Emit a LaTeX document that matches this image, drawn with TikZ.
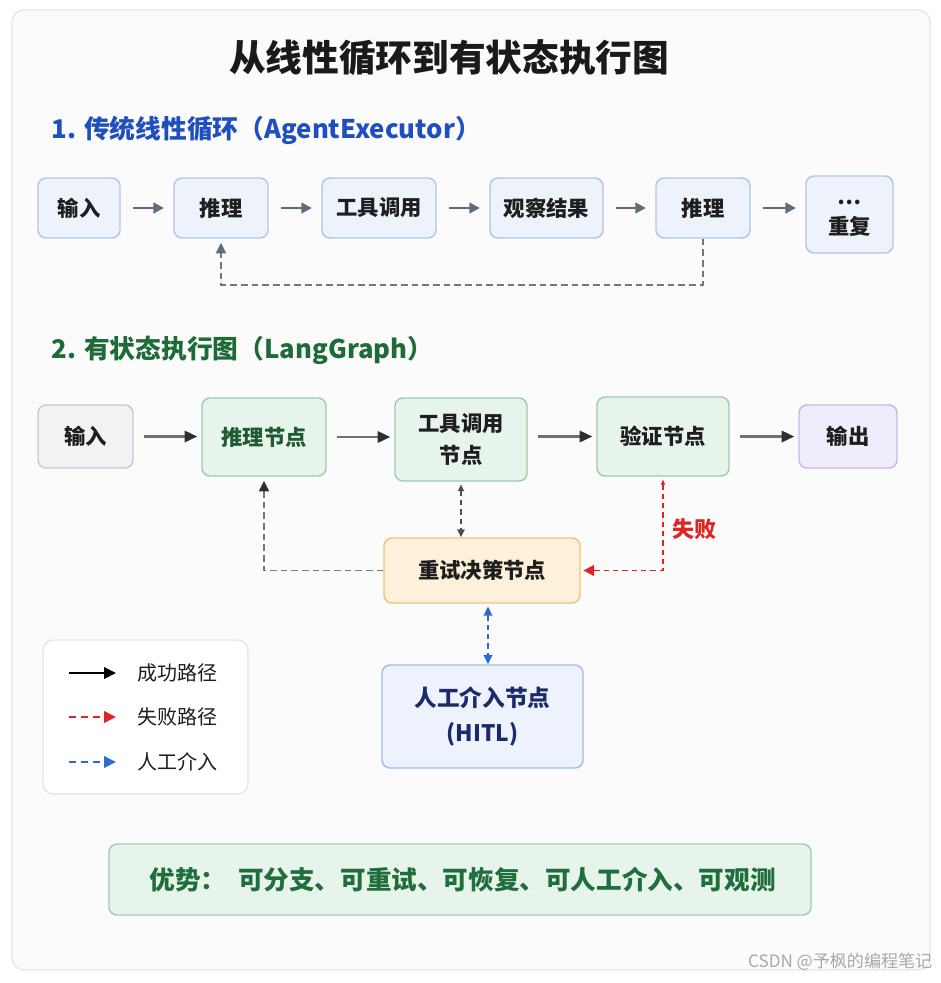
\documentclass[tikz,border=0pt]{standalone}
\usepackage{fontspec}
\setmainfont{Noto Sans CJK SC}
\usetikzlibrary{arrows.meta}
\definecolor{panelfill}{HTML}{FBFBFC}
\definecolor{panelline}{HTML}{E3E6EA}
\definecolor{titlec}{HTML}{1A1A1A}
\definecolor{hone}{HTML}{1F4FBF}
\definecolor{htwo}{HTML}{1F6B38}
\definecolor{txt}{HTML}{1E1E1E}
\definecolor{bluefill}{HTML}{EEF2FB}
\definecolor{blueline}{HTML}{B3C5E8}
\definecolor{grayfill}{HTML}{F1F2F4}
\definecolor{grayline}{HTML}{C6CAD1}
\definecolor{greenfill}{HTML}{E7F4EB}
\definecolor{greenline}{HTML}{9CCEAC}
\definecolor{purpfill}{HTML}{F1ECFB}
\definecolor{purpline}{HTML}{C8B8EC}
\definecolor{orfill}{HTML}{FDF1DC}
\definecolor{orline}{HTML}{F2C17A}
\definecolor{hitlfill}{HTML}{EDF2FC}
\definecolor{hitlline}{HTML}{A3BCEA}
\definecolor{navy}{HTML}{1B2A6B}
\definecolor{advtext}{HTML}{1F6E3B}
\definecolor{legline}{HTML}{E1E4EA}
\definecolor{aonec}{HTML}{5D6D7C}
\definecolor{atwoc}{HTML}{6A737C}
\definecolor{headc}{HTML}{2A2F33}
\definecolor{dashg}{HTML}{6F7780}
\definecolor{redc}{HTML}{E02424}
\definecolor{bluec}{HTML}{2B6BD3}
\definecolor{wmark}{HTML}{A6A8AB}
\definecolor{greentxt}{HTML}{1F5A31}
\begin{document}
\begin{tikzpicture}[x=0.75pt,y=-0.75pt,
  sz/.style 2 args={minimum width=#1*0.75pt, minimum height=#2*0.75pt},
  box/.style={rounded corners=6pt, line width=1.1pt, inner sep=0pt, align=center,
    font=\bfseries\fontsize{16}{24}\selectfont, text=txt},
  bbox/.style={box, fill=bluefill, draw=blueline},
  gbox/.style={box, fill=greenfill, draw=greenline},
  arrone/.style={draw=aonec, line width=2pt, -{Triangle[length=8pt,width=8pt]},
    shorten <=9pt, shorten >=7pt},
  arrtwo/.style={draw=atwoc, line width=1.8pt, -{Triangle[length=9.5pt,width=8.5pt,color=headc]},
    shorten <=7.5pt, shorten >=3pt},
  fbdash/.style={draw=dashg, line width=1.4pt, dash pattern=on 5pt off 3pt},
  legtext/.style={anchor=west, font=\fontsize{15}{18}\selectfont, text=txt}
]
\fill[white] (0,0) rectangle (941,983);
\draw[rounded corners=9pt, fill=panelfill, draw=panelline, line width=1pt] (12,10) rectangle (930,970);

% titles
\node[font=\bfseries\fontsize{27.5}{32}\selectfont, text=titlec] (title) at (449,58) {从线性循环到有状态执行图};
\node[anchor=west, font=\bfseries\fontsize{19.3}{23}\selectfont, text=hone] (hone) at (47,130) {1. 传统线性循环（AgentExecutor）};
\node[anchor=west, font=\bfseries\fontsize{19.3}{23}\selectfont, text=htwo] (htwo) at (47,350) {2. 有状态执行图（LangGraph）};

% row 1
\node[bbox, sz={82}{60}] (ina) at (79,208) {输入};
\node[bbox, sz={94}{60}] (rea) at (221,208) {推理};
\node[bbox, sz={114}{60}] (toa) at (379,208) {工具调用};
\node[bbox, sz={113}{60}] (oba) at (546.5,208) {观察结果};
\node[bbox, sz={94}{60}] (reb) at (703,208) {推理};
\node[bbox, sz={87}{77}, font=\bfseries\fontsize{16}{19}\selectfont] (rep) at (849.5,214.5)
  {\raisebox{-4.5pt}{\begin{tabular}{@{}c@{}}…\\[3pt]重复\end{tabular}}};

\draw[arrone] (ina.east) -- (rea.west);
\draw[arrone] (rea.east) -- (toa.west);
\draw[arrone] (toa.east) -- (oba.west);
\draw[arrone] (oba.east) -- (reb.west);
\draw[arrone] (reb.east) -- (reb.east -| rep.west);
\draw[fbdash, -{Triangle[length=8pt,width=7.5pt,color=aonec]}, shorten >=3pt]
  (reb.south) -- ++(0,46) -| (rea.south);

% row 2
\node[box, fill=grayfill, draw=grayline, sz={95}{63}] (inb) at (85.5,436.5) {输入};
\node[gbox, sz={124}{78}, text=greentxt] (ren) at (264,437) {推理节点};
\node[gbox, sz={132}{83}] (ton) at (461,439.5) {工具调用\\节点};
\node[gbox, sz={132}{79}] (ven) at (663,436.5) {验证节点};
\node[box, fill=purpfill, draw=purpline, sz={98}{63}] (outn) at (848,436.5) {输出};

\draw[arrtwo] (inb.east) -- (inb.east -| ren.west);
\draw[arrtwo] (ren.east) -- (ren.east -| ton.west);
\draw[arrtwo] (ven.west -| ton.east) -- (ven.west);
\draw[arrtwo] (ven.east) -- (ven.east -| outn.west);

\node[box, fill=orfill, draw=orline, sz={196}{65}] (retry) at (482,570.5) {重试决策节点};
\node[box, fill=hitlfill, draw=hitlline, sz={201}{103}, text=navy,
  font=\bfseries\fontsize{17}{26}\selectfont] (hitl) at (482.5,716.5) {人工介入节点\\(HITL)};

% dashed connectors row 2
\draw[draw=headc!85, line width=1.3pt, dash pattern=on 4pt off 3pt,
  {Triangle[length=5pt,width=4.5pt]}-{Triangle[length=6pt,width=5.5pt]}, shorten <=2pt]
  (ton.south) -- (ton.south |- retry.north);
\draw[fbdash, -{Triangle[length=8pt,width=7.5pt,color=headc]}, shorten >=3pt]
  (retry.west) -| (ren.south);
\draw[draw=redc, line width=1.4pt, dash pattern=on 4pt off 3pt,
  {Triangle[length=4pt,width=3pt]}-{Triangle[length=8pt,width=8pt]}, shorten >=2pt, shorten <=2pt]
  (ven.south) |- (retry.east);
\node[text=redc, font=\bfseries\fontsize{16.5}{20}\selectfont] (fail) at (694,529) {失败};
\draw[draw=bluec, line width=1.4pt, dash pattern=on 4pt off 3pt,
  {Triangle[length=7pt,width=6.5pt]}-{Triangle[length=7pt,width=6.5pt]}, shorten <=2pt]
  ([xshift=4.5pt]retry.south) -- ([xshift=4.5pt]retry.south |- hitl.north);

% legend
\node[draw=legline, fill=white, line width=1pt, rounded corners=8pt, sz={205}{154}] (leg) at (145.5,717) {};
\coordinate (lsa) at (69,673); \coordinate (lea) at (116,673);
\coordinate (lsb) at (69,717); \coordinate (leb) at (116,717);
\coordinate (lsc) at (69,762); \coordinate (lec) at (116,762);
\draw[draw=black, line width=2pt, -{Triangle[length=9pt,width=8.5pt]}] (lsa) -- (lea);
\draw[draw=redc, line width=2pt, dash pattern=on 5pt off 4pt, -{Triangle[length=9pt,width=8.5pt]}] (lsb) -- (leb);
\draw[draw=bluec, line width=2pt, dash pattern=on 5pt off 4pt, -{Triangle[length=9pt,width=8.5pt]}] (lsc) -- (lec);
\node[legtext] (lta) at (133,673) {成功路径};
\node[legtext] (ltb) at (133,717) {失败路径};
\node[legtext] (ltc) at (133,762) {人工介入};

% advantages
\node[box, fill=greenfill, draw=greenline, sz={702}{71}, text=advtext,
  font=\bfseries\fontsize{19.2}{23}\selectfont] (adv) at (460,879.5)
  {\hspace{4pt}优势：\hspace{0.45em}可分支、可重试、可恢复、可人工介入、可观测};

% watermark
\node[anchor=east, text=wmark, font=\fontsize{12.8}{16}\selectfont] (wm) at (937,962) {CSDN @予枫的编程笔记};
\end{tikzpicture}
\end{document}
